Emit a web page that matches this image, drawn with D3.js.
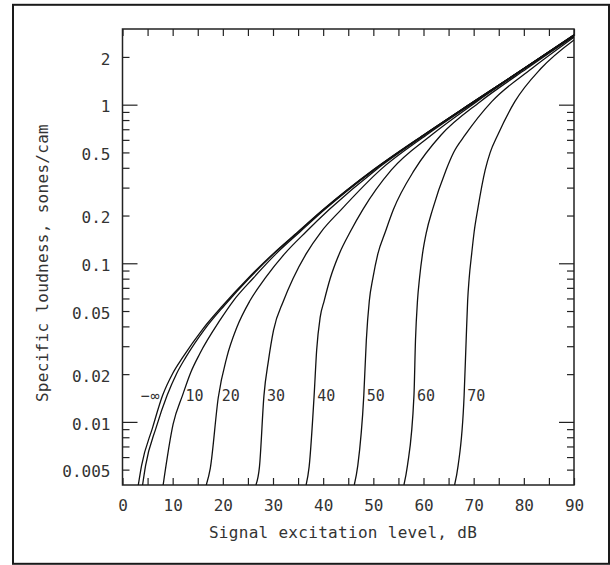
<!DOCTYPE html>
<html>
<head>
<meta charset="utf-8">
<script src="https://cdnjs.cloudflare.com/ajax/libs/d3/7.8.5/d3.min.js"></script>
<style>
  body { margin: 0; background: #fff; }
  svg { display: block; }
  text { font-family: "DejaVu Sans Mono", monospace; fill: #333; }
</style>
</head>
<body>
<svg width="610" height="565"></svg>
<script>
// [signal level dB, specific loudness sones/cam]
const curveInf = [[3.15,0.004],[3.8,0.0053],[6.0,0.0092],[8.0,0.0147],[10.0,0.0202],[12.0,0.0255],[16.0,0.0385],[20.0,0.0542],[25.0,0.0802],[30.0,0.1146],[35.0,0.158],[40.0,0.218],[50.0,0.388],[60.0,0.644],[70.0,1.045],[80.0,1.69],[90,2.76]];
const curve0 = [[4.0,0.004],[4.6,0.0053],[6.7,0.0092],[8.9,0.0147],[10.8,0.0202],[12.6,0.0255],[16.4,0.0385],[20.3,0.0542],[25.2,0.0802],[30.15,0.1146],[35.1,0.158],[40.1,0.218],[50.05,0.388],[60.05,0.644],[70.0,1.045],[80.0,1.69],[90,2.75]];
const curve10 = [[8.1,0.004],[10.1,0.0097],[12.0,0.0148],[13.6,0.0205],[15.4,0.0269],[19.4,0.0436],[22.1,0.058],[26.0,0.0802],[30.6,0.1146],[35.4,0.158],[40.3,0.218],[50.15,0.388],[60.1,0.644],[70.05,1.045],[80.0,1.69],[90,2.75]];
const curve20 = [[16.7,0.004],[17.5,0.0051],[19.1,0.0143],[20.8,0.0256],[22.8,0.0395],[25.4,0.058],[28.4,0.0802],[32.3,0.1146],[36.6,0.158],[41.2,0.218],[50.5,0.388],[60.25,0.644],[70.15,1.045],[80.05,1.69],[90,2.74]];
const curve30 = [[26.6,0.004],[27.3,0.0052],[28.2,0.0147],[29.1,0.0244],[30.1,0.0377],[32.1,0.058],[34.0,0.0802],[36.6,0.1146],[39.6,0.158],[43.6,0.218],[51.4,0.388],[60.6,0.644],[70.3,1.045],[80.1,1.69],[90,2.73]];
const curve40 = [[36.6,0.004],[37.2,0.0052],[38.2,0.0147],[38.7,0.0283],[39.4,0.0456],[40.2,0.058],[41.4,0.0802],[43.2,0.1146],[45.4,0.158],[47.9,0.218],[53.6,0.388],[61.6,0.644],[70.6,1.045],[80.2,1.69],[90,2.72]];
const curve50 = [[46.2,0.004],[46.9,0.0053],[48.1,0.0147],[48.6,0.0326],[49.2,0.058],[49.9,0.0802],[50.9,0.1146],[52.4,0.158],[54.0,0.218],[58.2,0.388],[63.5,0.644],[71.3,1.045],[80.6,1.69],[90,2.70]];
const curve60 = [[56.1,0.004],[56.8,0.0053],[58.1,0.0147],[58.4,0.0326],[58.8,0.058],[59.2,0.0802],[59.8,0.1146],[60.6,0.158],[61.8,0.218],[64.5,0.388],[66.0,0.5],[68.3,0.644],[73.6,1.045],[81.6,1.69],[90,2.66]];
const curve70 = [[66.2,0.004],[66.9,0.0053],[68.1,0.0147],[68.5,0.0326],[68.8,0.058],[69.1,0.0802],[69.6,0.1146],[70.1,0.158],[70.8,0.218],[72.3,0.388],[73.3,0.5],[74.8,0.644],[78.2,1.045],[83.4,1.69],[90,2.56]];

const curves = [curveInf, curve0, curve10, curve20, curve30, curve40, curve50, curve60, curve70];
const curveLabels = ['\u2212\u221e', null, '10', '20', '30', '40', '50', '60', '70'];
const labelLevel = 0.0147;

const xTickLabels = [0, 10, 20, 30, 40, 50, 60, 70, 80, 90];
const yTickLabels = ['0.005', '0.01', '0.02', '0.05', '0.1', '0.2', '0.5', '1', '2'];

const svg = d3.select('svg');
const width = +svg.attr('width');
const height = +svg.attr('height');

const render = () => {
	const margin = { top: 29, right: 36, bottom: 80, left: 122.5 };
	const innerWidth = width - margin.left - margin.right;
	const innerHeight = height - margin.top - margin.bottom;

	// outer frame
	svg.append('rect')
		.attr('x', 13).attr('y', 4.8)
		.attr('width', 596).attr('height', 559)
		.attr('fill', 'none')
		.attr('stroke', '#1a1a1a')
		.attr('stroke-width', 2);

	const g = svg.append('g')
		.attr('transform', `translate(${margin.left},${margin.top})`);

	const x = d3.scaleLinear().domain([0, 90]).range([0, innerWidth]);
	const y = d3.scaleLog().domain([0.004, 3]).range([innerHeight, 0]);

	const yTicks = y.ticks().filter(v => v > 0.0041 && v < 2.95);
	const isDecade = v => Math.abs(Math.log10(v) - Math.round(Math.log10(v))) < 1e-6;
	const yFmt = v => {
		const s = yTickLabels.find(l => Math.abs(+l - v) / v < 1e-6);
		return s || '';
	};

	const styleAxis = sel => {
		sel.select('.domain').remove();
		sel.selectAll('.tick line').attr('stroke', '#222').attr('stroke-width', 1.2);
		sel.selectAll('.tick text')
			.style('font-family', '"DejaVu Sans Mono", monospace')
			.style('font-size', '16px')
			.attr('fill', '#333');
	};

	const yLeft = g.append('g')
		.call(d3.axisLeft(y).tickValues(yTicks).tickSizeInner(-7).tickSizeOuter(0)
			.tickPadding(12).tickFormat(yFmt))
		.call(styleAxis);
	yLeft.selectAll('.tick line').attr('x2', d => isDecade(d) ? 15 : 7);
	yLeft.selectAll('.tick text').attr('dy', '0.45em');

	const yRight = g.append('g')
		.attr('transform', `translate(${innerWidth},0)`)
		.call(d3.axisRight(y).tickValues(yTicks).tickSizeInner(-7).tickSizeOuter(0).tickFormat(''))
		.call(styleAxis);
	yRight.selectAll('.tick line').attr('x2', d => isDecade(d) ? -15 : -7);

	g.append('g')
		.attr('transform', `translate(0,${innerHeight})`)
		.call(d3.axisBottom(x).tickValues(d3.range(0, 91, 5)).tickSizeInner(-7).tickSizeOuter(0)
			.tickPadding(15).tickFormat(d => xTickLabels.includes(d) ? d : ''))
		.call(styleAxis);

	g.append('g')
		.call(d3.axisTop(x).tickValues(d3.range(0, 91, 5)).tickSizeInner(-7).tickSizeOuter(0).tickFormat(''))
		.call(styleAxis);

	g.append('rect')
		.attr('width', innerWidth).attr('height', innerHeight)
		.attr('fill', 'none')
		.attr('stroke', '#222')
		.attr('stroke-width', 1.5);

	g.append('clipPath').attr('id', 'plot-clip')
		.append('rect').attr('width', innerWidth).attr('height', innerHeight);

	const line = d3.line()
		.x(d => x(d[0]))
		.y(d => y(d[1]))
		.curve(d3.curveMonotoneX);

	g.append('g')
		.attr('clip-path', 'url(#plot-clip)')
		.selectAll('path')
		.data(curves)
		.enter()
		.append('path')
		.attr('d', line)
		.attr('fill', 'none')
		.attr('stroke', '#111')
		.attr('stroke-width', 1.3);

	// curve labels, placed beside each curve at one loudness level
	curves.forEach((c, i) => {
		const txt = curveLabels[i];
		if (!txt) return;
		const atLevel = d3.scaleLog().domain(c.map(d => d[1])).range(c.map(d => d[0]));
		const cx = x(atLevel(labelLevel));
		const inf = i === 0;
		g.append('text')
			.attr('x', inf ? cx - 2 : cx + 3)
			.attr('y', y(labelLevel) + 6)
			.attr('text-anchor', inf ? 'end' : 'start')
			.style('font-size', '15px')
			.style('letter-spacing', inf ? '1px' : '0px')
			.text(txt);
	});

	svg.append('text')
		.attr('x', 343)
		.attr('y', 538)
		.attr('text-anchor', 'middle')
		.style('font-size', '16px')
		.style('letter-spacing', '0.3px')
		.text('Signal excitation level, dB');

	svg.append('text')
		.attr('transform', 'translate(48,263) rotate(-90)')
		.attr('text-anchor', 'middle')
		.style('font-size', '16px')
		.style('letter-spacing', '0.3px')
		.text('Specific loudness, sones/cam');
};

render();
</script>
</body>
</html>
